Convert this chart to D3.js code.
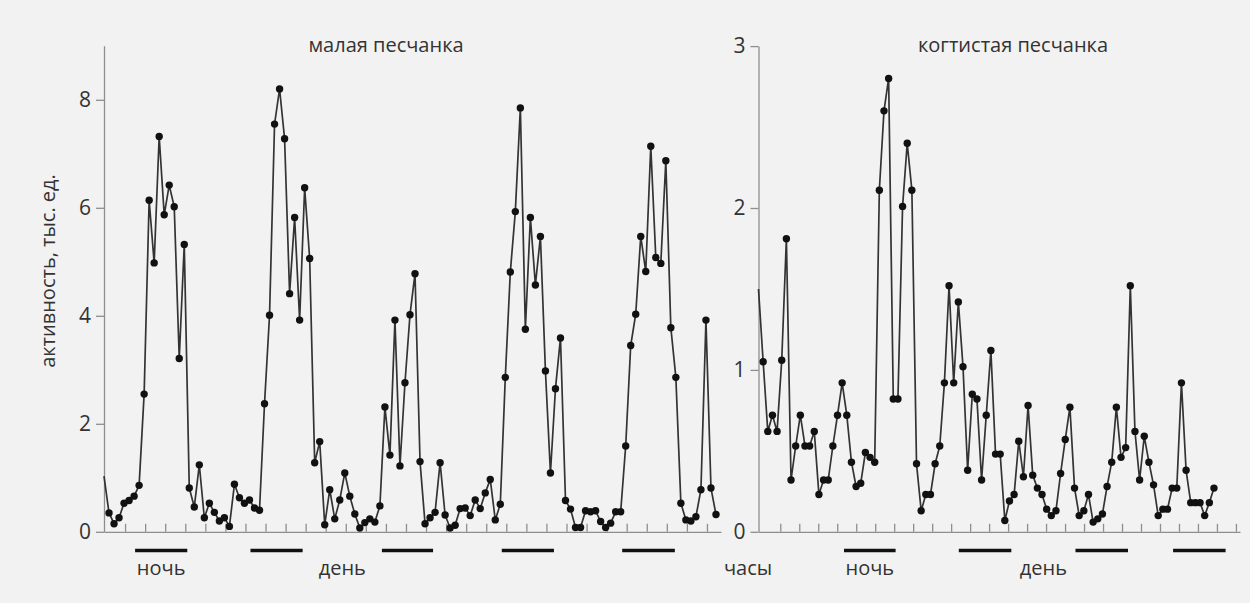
<!DOCTYPE html>
<html>
<head>
<meta charset="utf-8">
<script src="https://cdn.jsdelivr.net/npm/d3@7"></script>
<style>
  html, body { margin: 0; padding: 0; background: #f2f2f2; }
  svg { display: block; font-family: "Open Sans", "Noto Sans", sans-serif; }
</style>
</head>
<body>
<div id="chart"></div>
<script>

// малая песчанка, hourly samples
const smallGerbil = [
  1.03, 0.35, 0.15, 0.26, 0.53, 0.58, 0.66, 0.86, 2.55, 6.14,
  4.98, 7.32, 5.87, 6.42, 6.02, 3.21, 5.32, 0.81, 0.46, 1.24,
  0.26, 0.53, 0.36, 0.20, 0.26, 0.10, 0.88, 0.63, 0.53, 0.59,
  0.44, 0.40, 2.37, 4.01, 7.55, 8.20, 7.28, 4.41, 5.82, 3.92,
  6.37, 5.06, 1.28, 1.67, 0.13, 0.78, 0.24, 0.59, 1.09, 0.66,
  0.33, 0.07, 0.17, 0.24, 0.18, 0.48, 2.31, 1.42, 3.92, 1.22,
  2.76, 4.02, 4.78, 1.30, 0.15, 0.26, 0.36, 1.28, 0.31, 0.07,
  0.12, 0.43, 0.44, 0.30, 0.59, 0.43, 0.72, 0.97, 0.22, 0.51,
  2.86, 4.81, 5.93, 7.85, 3.75, 5.82, 4.57, 5.47, 2.98, 1.09,
  2.65, 3.59, 0.58, 0.42, 0.08, 0.08, 0.39, 0.37, 0.39, 0.19,
  0.08, 0.16, 0.37, 0.37, 1.59, 3.45, 4.03, 5.47, 4.82, 7.14,
  5.08, 4.97, 6.87, 3.78, 2.86, 0.53, 0.22, 0.20, 0.28, 0.78,
  3.92, 0.81, 0.32
]

// когтистая песчанка
const clawedGerbil = [
  1.50, 1.05, 0.62, 0.72, 0.62, 1.06, 1.81, 0.32, 0.53, 0.72,
  0.53, 0.53, 0.62, 0.23, 0.32, 0.32, 0.53, 0.72, 0.92, 0.72,
  0.43, 0.28, 0.30, 0.49, 0.46, 0.43, 2.11, 2.60, 2.80, 0.82,
  0.82, 2.01, 2.40, 2.11, 0.42, 0.13, 0.23, 0.23, 0.42, 0.53,
  0.92, 1.52, 0.92, 1.42, 1.02, 0.38, 0.85, 0.82, 0.32, 0.72,
  1.12, 0.48, 0.48, 0.07, 0.19, 0.23, 0.56, 0.34, 0.78, 0.35,
  0.27, 0.23, 0.14, 0.10, 0.13, 0.36, 0.57, 0.77, 0.27, 0.10,
  0.13, 0.23, 0.06, 0.08, 0.11, 0.28, 0.43, 0.77, 0.46, 0.52,
  1.52, 0.62, 0.32, 0.59, 0.43, 0.29, 0.10, 0.14, 0.14, 0.27,
  0.27, 0.92, 0.38, 0.18, 0.18, 0.18, 0.10, 0.18, 0.27
]

// night periods, in sample units [start, end]
const smallNights = [[6.2, 16.6], [29.2, 39.6], [55.4, 65.6], [79.3, 89.7], [103.3, 113.8]]
const clawedNights = [[18.4, 29.5], [43.1, 54.4], [68.2, 79.5], [89.2, 100.5]]

const smallYTicks = [0, 2, 4, 6, 8]
const clawedYTicks = [0, 1, 2, 3]
const smallXTicks = d3.range(1, 31).map(k => 0.2 + 4 * k)
const clawedXTicks = d3.range(1, 26).map(k => 0.6 + 4.085 * k)

const titles = ["малая песчанка", "когтистая песчанка"]
const yTitle = "активность, тыс. ед."
const nightLabel = "ночь"
const dayLabel = "день"
const hoursLabel = "часы"


const width = 1250
const height = 603
const y0 = 531.8          // baseline of both panels
const barY = 550.5        // night bars
const labelY = 575        // ночь / день baseline

const svg = d3.create("svg")
  .attr("width", width)
  .attr("height", height)
  .attr("viewBox", [0, 0, width, height])
document.getElementById("chart").appendChild(svg.node())

svg.append("rect")
  .attr("width", width).attr("height", height)
  .attr("fill", "#f2f2f2")

const panels = [
  {
    values: smallGerbil, nights: smallNights, yTicks: smallYTicks, xTicks: smallXTicks,
    x: d3.scaleLinear().domain([0, 123]).range([104, 721]),
    y: d3.scaleLinear().domain([0, 9]).range([y0, 45.8]),
    title: titles[0], titleX: 386
  },
  {
    values: clawedGerbil, nights: clawedNights, yTicks: clawedYTicks, xTicks: clawedXTicks,
    x: d3.scaleLinear().domain([0, 103.6]).range([758.5, 1240]),
    y: d3.scaleLinear().domain([0, 3]).range([y0, 46.1]),
    title: titles[1], titleX: 1013
  }
]

const axisColor = "#8e8e8e"
const textColor = "#333"

panels.forEach(p => {
  const g = svg.append("g")

  // x axis: baseline with small upward ticks
  g.append("g")
    .attr("transform", `translate(0,${y0})`)
    .call(d3.axisBottom(p.x).tickValues(p.xTicks).tickSize(-8).tickSizeOuter(0).tickFormat(""))
    .call(a => a.selectAll("path, line").attr("stroke", axisColor).attr("stroke-width", 1.3))

  // y axis
  g.append("g")
    .attr("transform", `translate(${p.x(0)},0)`)
    .call(d3.axisLeft(p.y).tickValues(p.yTicks).tickFormat(d3.format("d"))
      .tickSize(8).tickPadding(5).tickSizeOuter(0))
    .call(a => a.selectAll("path, line").attr("stroke", axisColor).attr("stroke-width", 1.3))
    .call(a => a.selectAll("text")
      .attr("fill", textColor)
      .attr("font-size", 21)
      .attr("font-family", "Open Sans, Noto Sans, sans-serif"))

  // series
  const line = d3.line()
    .x((d, i) => p.x(i))
    .y(d => p.y(d))

  g.append("path")
    .datum(p.values)
    .attr("fill", "none")
    .attr("stroke", "#333")
    .attr("stroke-width", 1.7)
    .attr("stroke-linejoin", "round")
    .attr("d", line)

  g.append("g")
    .selectAll("circle")
    .data(p.values.map((v, i) => [i, v]).slice(1)) // first sample has no marker
    .join("circle")
    .attr("cx", d => p.x(d[0]))
    .attr("cy", d => p.y(d[1]))
    .attr("r", 3.7)
    .attr("fill", "#111")

  // night bars
  g.append("g")
    .selectAll("line")
    .data(p.nights)
    .join("line")
    .attr("x1", d => p.x(d[0]))
    .attr("x2", d => p.x(d[1]))
    .attr("y1", barY).attr("y2", barY)
    .attr("stroke", "#111")
    .attr("stroke-width", 3.6)

  // ночь under first night, день between 2nd and 3rd nights
  const n = p.nights
  g.append("text")
    .attr("x", p.x((n[0][0] + n[0][1]) / 2))
    .attr("y", labelY)
    .text(nightLabel)
  g.append("text")
    .attr("x", p.x((n[1][1] + n[2][0]) / 2))
    .attr("y", labelY)
    .text(dayLabel)

  g.append("text")
    .attr("x", p.titleX)
    .attr("y", 52)
    .text(p.title)
})

svg.append("text")
  .attr("x", 748)
  .attr("y", labelY)
  .text(hoursLabel)

svg.append("text")
  .attr("transform", "translate(55,271) rotate(-90)")
  .text(yTitle)

svg.selectAll("svg > g > text, svg > text")
  .attr("text-anchor", "middle")
  .attr("font-size", 20)
  .attr("fill", textColor)

</script>
</body>
</html>
